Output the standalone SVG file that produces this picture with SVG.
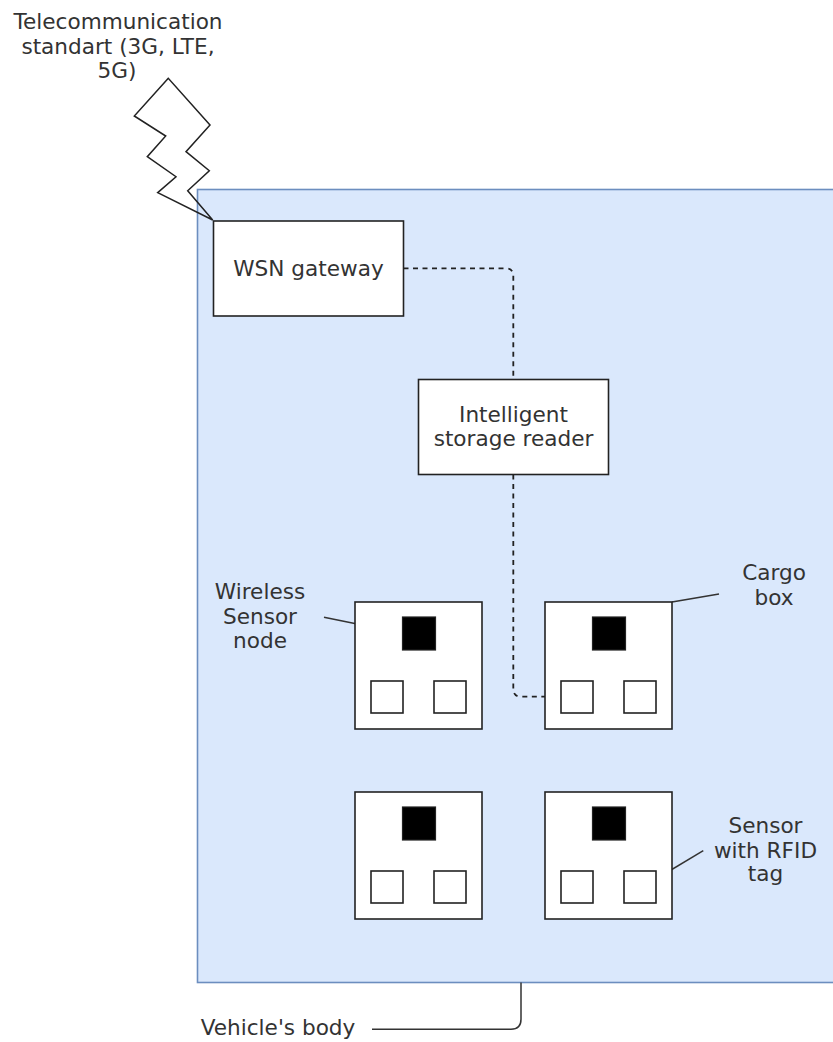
<svg xmlns="http://www.w3.org/2000/svg" width="833" height="1042" viewBox="0 0 833 1042">
  <style>
    .lbl { font-family: "DejaVu Sans", Verdana, sans-serif; font-size: 21.6px; fill: #333333; text-anchor: middle; }
    .box { fill: #ffffff; stroke: #222222; stroke-width: 1.6; }
    .slot { fill: #ffffff; stroke: #222222; stroke-width: 1.6; }
    .chip { fill: #000000; stroke: #222222; stroke-width: 1.2; }
    .lead { fill: none; stroke: #333333; stroke-width: 1.5; }
    .dash { fill: none; stroke: #222222; stroke-width: 1.8; stroke-dasharray: 5 4.5; }
  </style>
  <defs>
    <!-- cargo box with one sensor node (black) and two tagged sensors -->
    <g id="cargo">
      <rect class="box" x="0" y="0" width="127" height="127"/>
      <rect class="chip" x="47.5" y="15" width="33" height="33"/>
      <rect class="slot" x="16" y="79" width="32" height="32"/>
      <rect class="slot" x="79" y="79" width="32" height="32"/>
    </g>
  </defs>

  <rect width="833" height="1042" fill="#ffffff"/>

  <!-- vehicle body -->
  <g id="vehicle-body">
    <rect x="197.5" y="189.5" width="660" height="793" fill="#dae8fc" stroke="#6c8ebf" stroke-width="1.6"/>
  </g>

  <!-- wireless link symbol -->
  <g id="radio-link">
    <polygon points="168.3,78.3 134.3,116 165.7,136 147.3,156.7 176,176.7 157.7,192.7 212.7,220 187.7,190.7 209.3,170.7 186,151.7 210,125" fill="none" stroke="#222222" stroke-width="1.5" stroke-linejoin="miter"/>
    <text class="lbl" x="118" y="29">Telecommunication</text>
    <text class="lbl" x="118" y="54">standart (3G, LTE,</text>
    <text class="lbl" x="117" y="78">5G)</text>
  </g>

  <!-- connectors -->
  <g id="connectors">
    <path class="dash" d="M403.5,268.3 H505.5 Q513.3,268.3 513.3,276 V379.5"/>
    <path class="dash" d="M513.3,474.5 V689 Q513.3,696.7 521,696.7 H561"/>
    <path class="lead" d="M324,617.3 L402.7,633.3"/>
    <path class="lead" d="M672,602 L719,594"/>
    <path class="lead" d="M656,879 L703.3,850.7"/>
    <path class="lead" d="M372,1029.3 H511 Q521,1029.3 521,1019.3 V982.5"/>
  </g>

  <g id="wsn-gateway">
    <rect class="box" x="213.5" y="221" width="190" height="95"/>
    <text class="lbl" x="308.5" y="275.7">WSN gateway</text>
  </g>

  <g id="storage-reader">
    <rect class="box" x="418.5" y="379.5" width="190" height="95"/>
    <text class="lbl" x="513.5" y="421.7">Intelligent</text>
    <text class="lbl" x="513.5" y="446">storage reader</text>
  </g>

  <g id="cargo-1"><use href="#cargo" x="355" y="602"/></g>
  <g id="cargo-2"><use href="#cargo" x="545" y="602"/></g>
  <g id="cargo-3"><use href="#cargo" x="355" y="792"/></g>
  <g id="cargo-4"><use href="#cargo" x="545" y="792"/></g>

  <g id="label-sensor-node">
    <text class="lbl" x="260" y="599">Wireless</text>
    <text class="lbl" x="260" y="624">Sensor</text>
    <text class="lbl" x="260" y="648">node</text>
  </g>

  <g id="label-cargo-box">
    <text class="lbl" x="774" y="580">Cargo</text>
    <text class="lbl" x="774" y="605">box</text>
  </g>

  <g id="label-rfid">
    <text class="lbl" x="765.5" y="832.7">Sensor</text>
    <text class="lbl" x="765.5" y="857.5">with RFID</text>
    <text class="lbl" x="765.5" y="881">tag</text>
  </g>

  <g id="label-vehicle">
    <text class="lbl" x="278" y="1035">Vehicle's body</text>
  </g>
</svg>
